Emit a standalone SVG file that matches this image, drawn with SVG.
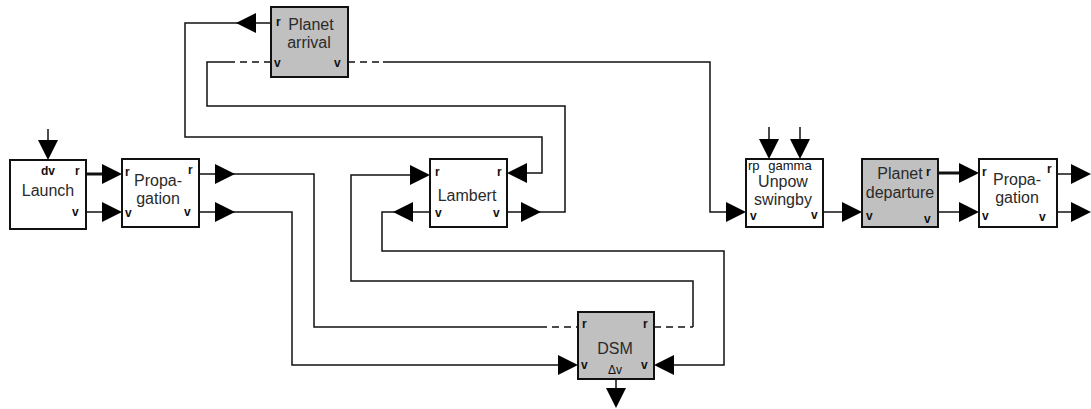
<svg xmlns="http://www.w3.org/2000/svg" xmlns:xlink="http://www.w3.org/1999/xlink" width="1091" height="409" viewBox="0 0 1091 409">
<style>
.box{fill:#fff;stroke:#111;stroke-width:2}
.gray{fill:#c0c0c0}
.ln{fill:none;stroke:#111;stroke-width:1.5}
.thick{fill:none;stroke:#111;stroke-width:3}
.dash{fill:none;stroke:#111;stroke-width:1.5;stroke-dasharray:7,5}
.lbl{font-family:"Liberation Sans",Arial,sans-serif;font-size:16px;fill:#2a2a2a;text-anchor:middle}
.port{font-family:"Liberation Sans",Arial,sans-serif;font-size:12px;font-weight:bold;fill:#111}
.sm{font-family:"Liberation Sans",Arial,sans-serif;font-size:13px;fill:#111}
.ah{fill:#000}
</style>
<defs>
<path id="ah" class="ah" d="M0,0 L-20,-10 L-20,10 Z"/>
</defs>
<rect width="1091" height="409" fill="#fff"/>
<g id="connectors">
<path class="thick" d="M86,174 H110"/>
<use xlink:href="#ah" transform="translate(122,174)"/>
<path class="ln" d="M86,212 H110"/>
<use xlink:href="#ah" transform="translate(122,212)"/>
<path class="ln" d="M48,129 V150"/>
<use xlink:href="#ah" transform="translate(48,160) rotate(90)"/>
<path class="ln" d="M199,174 H314 V327 H540"/>
<path class="dash" d="M540,327 H578"/>
<use xlink:href="#ah" transform="translate(235,174)"/>
<path class="ln" d="M199,212 H292 V365 H570"/>
<use xlink:href="#ah" transform="translate(235,212)"/>
<use xlink:href="#ah" transform="translate(578,365)"/>
<path class="ln" d="M271,23 H185 V137 H542 V173 H515"/>
<use xlink:href="#ah" transform="translate(236,23) rotate(180)"/>
<use xlink:href="#ah" transform="translate(507,173) rotate(180)"/>
<path class="dash" d="M271,62 H233"/>
<path class="ln" d="M233,62 H207 V106 H565 V212 H507"/>
<use xlink:href="#ah" transform="translate(541,212)"/>
<path class="dash" d="M348,62 H383"/>
<path class="ln" d="M383,62 H710 V212 H740"/>
<use xlink:href="#ah" transform="translate(746,212)"/>
<path class="dash" d="M654,327 H693"/>
<path class="ln" d="M693,327 V281 H351 V175 H420"/>
<use xlink:href="#ah" transform="translate(430,175)"/>
<path class="ln" d="M430,212 H382 V251 H724 V365 H662"/>
<use xlink:href="#ah" transform="translate(393,212) rotate(180)"/>
<use xlink:href="#ah" transform="translate(654,365) rotate(180)"/>
<path class="ln" d="M616,379 V398"/>
<use xlink:href="#ah" transform="translate(616,408) rotate(90)"/>
<path class="ln" d="M769,127 V150"/>
<use xlink:href="#ah" transform="translate(769,159) rotate(90)"/>
<path class="ln" d="M800,127 V150"/>
<use xlink:href="#ah" transform="translate(800,159) rotate(90)"/>
<path class="ln" d="M823,212 H855"/>
<use xlink:href="#ah" transform="translate(862,212)"/>
<path class="thick" d="M938,173 H970"/>
<use xlink:href="#ah" transform="translate(979,173)"/>
<path class="ln" d="M938,212 H970"/>
<use xlink:href="#ah" transform="translate(979,212)"/>
<path class="ln" d="M1057,174 H1080"/>
<use xlink:href="#ah" transform="translate(1091,174)"/>
<path class="ln" d="M1057,212 H1080"/>
<use xlink:href="#ah" transform="translate(1091,212)"/>
</g>
<g id="launch">
<rect class="box" x="10" y="160" width="76" height="69"/>
<text class="port" x="48" y="175" text-anchor="middle">dv</text>
<text class="port" x="75" y="175">r</text>
<text class="port" x="72" y="216">v</text>
<text class="lbl" x="48" y="196">Launch</text>
</g>
<g id="propagation1">
<rect class="box" x="122" y="159" width="77" height="68"/>
<text class="port" x="125" y="176">r</text>
<text class="port" x="188" y="174">r</text>
<text class="port" x="125" y="217">v</text>
<text class="port" x="184" y="216">v</text>
<text class="lbl" x="158" y="186">Propa-</text>
<text class="lbl" x="158" y="204">gation</text>
</g>
<g id="planet-arrival">
<rect class="box gray" x="271" y="7" width="77" height="70"/>
<text class="port" x="276" y="26">r</text>
<text class="port" x="274" y="67">v</text>
<text class="port" x="334" y="67">v</text>
<text class="lbl" x="311" y="30">Planet</text>
<text class="lbl" x="309" y="48">arrival</text>
</g>
<g id="lambert">
<rect class="box" x="430" y="159" width="77" height="68"/>
<text class="port" x="435" y="176">r</text>
<text class="port" x="497" y="176">r</text>
<text class="port" x="435" y="217">v</text>
<text class="port" x="493" y="217">v</text>
<text class="lbl" x="467" y="201">Lambert</text>
</g>
<g id="dsm">
<rect class="box gray" x="578" y="312" width="76" height="67"/>
<text class="port" x="582" y="328">r</text>
<text class="port" x="643" y="328">r</text>
<text class="port" x="581" y="369">v</text>
<text class="port" x="641" y="369">v</text>
<text class="lbl" x="615" y="354">DSM</text>
<text class="sm" x="615" y="374" text-anchor="middle" style="font-size:12px">Δv</text>
</g>
<g id="unpow-swingby">
<rect class="box" x="746" y="159" width="77" height="68"/>
<text class="sm" x="748" y="170">rp</text>
<text class="sm" x="790" y="170" text-anchor="middle">gamma</text>
<text class="lbl" x="783" y="187">Unpow</text>
<text class="lbl" x="783" y="205">swingby</text>
<text class="port" x="750" y="220">v</text>
<text class="port" x="811" y="219">v</text>
</g>
<g id="planet-departure">
<rect class="box gray" x="862" y="159" width="76" height="68"/>
<text class="lbl" x="900" y="179">Planet</text>
<text class="lbl" x="900" y="198">departure</text>
<text class="port" x="926" y="176">r</text>
<text class="port" x="866" y="220">v</text>
<text class="port" x="924" y="223">v</text>
</g>
<g id="propagation2">
<rect class="box" x="979" y="159" width="78" height="68"/>
<text class="port" x="982" y="176">r</text>
<text class="port" x="1047" y="173">r</text>
<text class="port" x="982" y="220">v</text>
<text class="port" x="1039" y="221">v</text>
<text class="lbl" x="1017" y="185">Propa-</text>
<text class="lbl" x="1017" y="203">gation</text>
</g>
</svg>
